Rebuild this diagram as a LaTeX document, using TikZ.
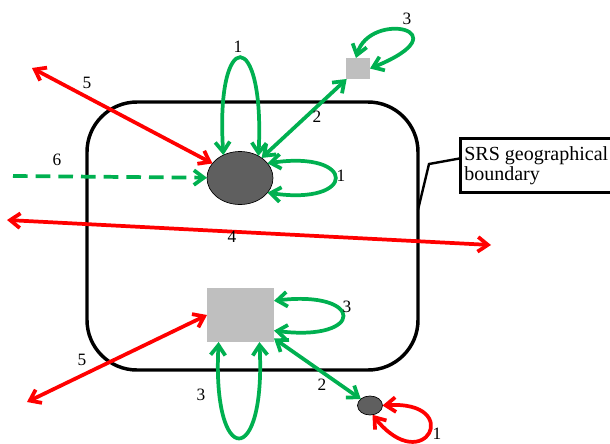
\documentclass[tikz,border=0pt]{standalone}
\usepackage{fontspec}
\setmainfont{Liberation Serif}
\usepackage{tkz-euclide}
\usetikzlibrary{arrows.meta,shapes.geometric}
\definecolor{FlowGreen}{RGB}{0,176,80}
\definecolor{FlowRed}{RGB}{255,0,0}
\definecolor{SiteClr}{RGB}{95,95,95}
\definecolor{StoreClr}{RGB}{191,191,191}

\begin{document}
\begin{tikzpicture}[x=.75pt,y=-.75pt,
  >={Straight Barb[length=7.5pt,width=11pt]},
  gflow/.style={line width=2.8pt,color=FlowGreen},
  rflow/.style={line width=2.8pt,color=FlowRed},
  site/.style={ellipse,draw=black,line width=.5pt,fill=SiteClr,inner sep=0pt,outer sep=0pt},
  store/.style={rectangle,fill=StoreClr,inner sep=0pt,outer sep=0pt},
  num/.style={font=\fontsize{13}{15}\selectfont,inner sep=0pt}]
\useasboundingbox (0,0) rectangle (610,443);

\tkzDefPoints{240/178/O,358/68.5/P,240.5/315/Q,370/405.5/R,252.5/236/M}
\tkzDefPoints{32/68/Fa,13/176/Fb,7/220/Fc,491/245/Fd,27/402/Fe,429/164/K}

\node[draw=black,line width=2.6pt,rounded corners=37.5pt,minimum width=248.25pt,minimum height=201pt,outer sep=0pt] (area) at (M) {};

\node[site,minimum width=49.5pt,minimum height=39.75pt] (bigsite) at (O) {};
\node[store,minimum width=18pt,minimum height=15.75pt] (topstore) at (P) {};
\node[store,minimum width=50.25pt,minimum height=40.5pt] (bigstore) at (Q) {};
\node[site,minimum width=18.75pt,minimum height=14.25pt] (smallsite) at (R) {};

\node[draw=black,line width=2pt,anchor=north west,align=left,inner xsep=3pt,inner ysep=2pt,
  minimum width=112.5pt,minimum height=40.5pt,font=\fontsize{15}{15}\selectfont] (srs) at (459,137) {SRS geographical\\boundary};
\draw[line width=1.8pt] (srs.175) -- (K) -- (area.9.6);

\draw[gflow,<->] (bigsite.126) .. controls (215,26) and (265,26) .. (bigsite.50);
\draw[gflow,<->] (bigsite.28) .. controls (357,150) and (357,206) .. (bigsite.-28);
\draw[gflow,<->] (bigsite) -- (topstore);
\draw[gflow,<->] (topstore.101) .. controls (370,10) and (465,30) .. (topstore.east);
\draw[gflow,->,dash pattern=on 11pt off 6pt] (Fb) -- (bigsite);
\draw[rflow,<->] (Fa) -- (bigsite);
\draw[rflow,<->] (Fc) -- (Fd);

\draw[gflow,<->] (bigstore.23) .. controls (365,290) and (365,342) .. (bigstore.-25);
\draw[gflow,<->] (bigstore.231.5) .. controls (212,469) and (266,469) .. (bigstore.-55.6);
\draw[gflow,<->] (bigstore) -- (smallsite);
\draw[rflow,<->] (Fe) -- (bigstore.west);
\draw[rflow,<->] (smallsite.east) .. controls (465,400) and (425,480) .. (smallsite.-75);

\node[num] (l1a) at (238,47) {1};
\node[num] (l1b) at (341,176) {1};
\node[num] (l3a) at (407,19) {3};
\node[num] (l2a) at (317,117) {2};
\node[num] (l5a) at (87,83) {5};
\node[num] (l6) at (57,160) {6};
\node[num] (l4) at (232,237) {4};
\node[num] (l3b) at (347,307) {3};
\node[num] (l3c) at (201,395) {3};
\node[num] (l5b) at (82,360) {5};
\node[num] (l2b) at (322,385) {2};
\node[num] (l1c) at (437,434) {1};
\end{tikzpicture}
\end{document}
